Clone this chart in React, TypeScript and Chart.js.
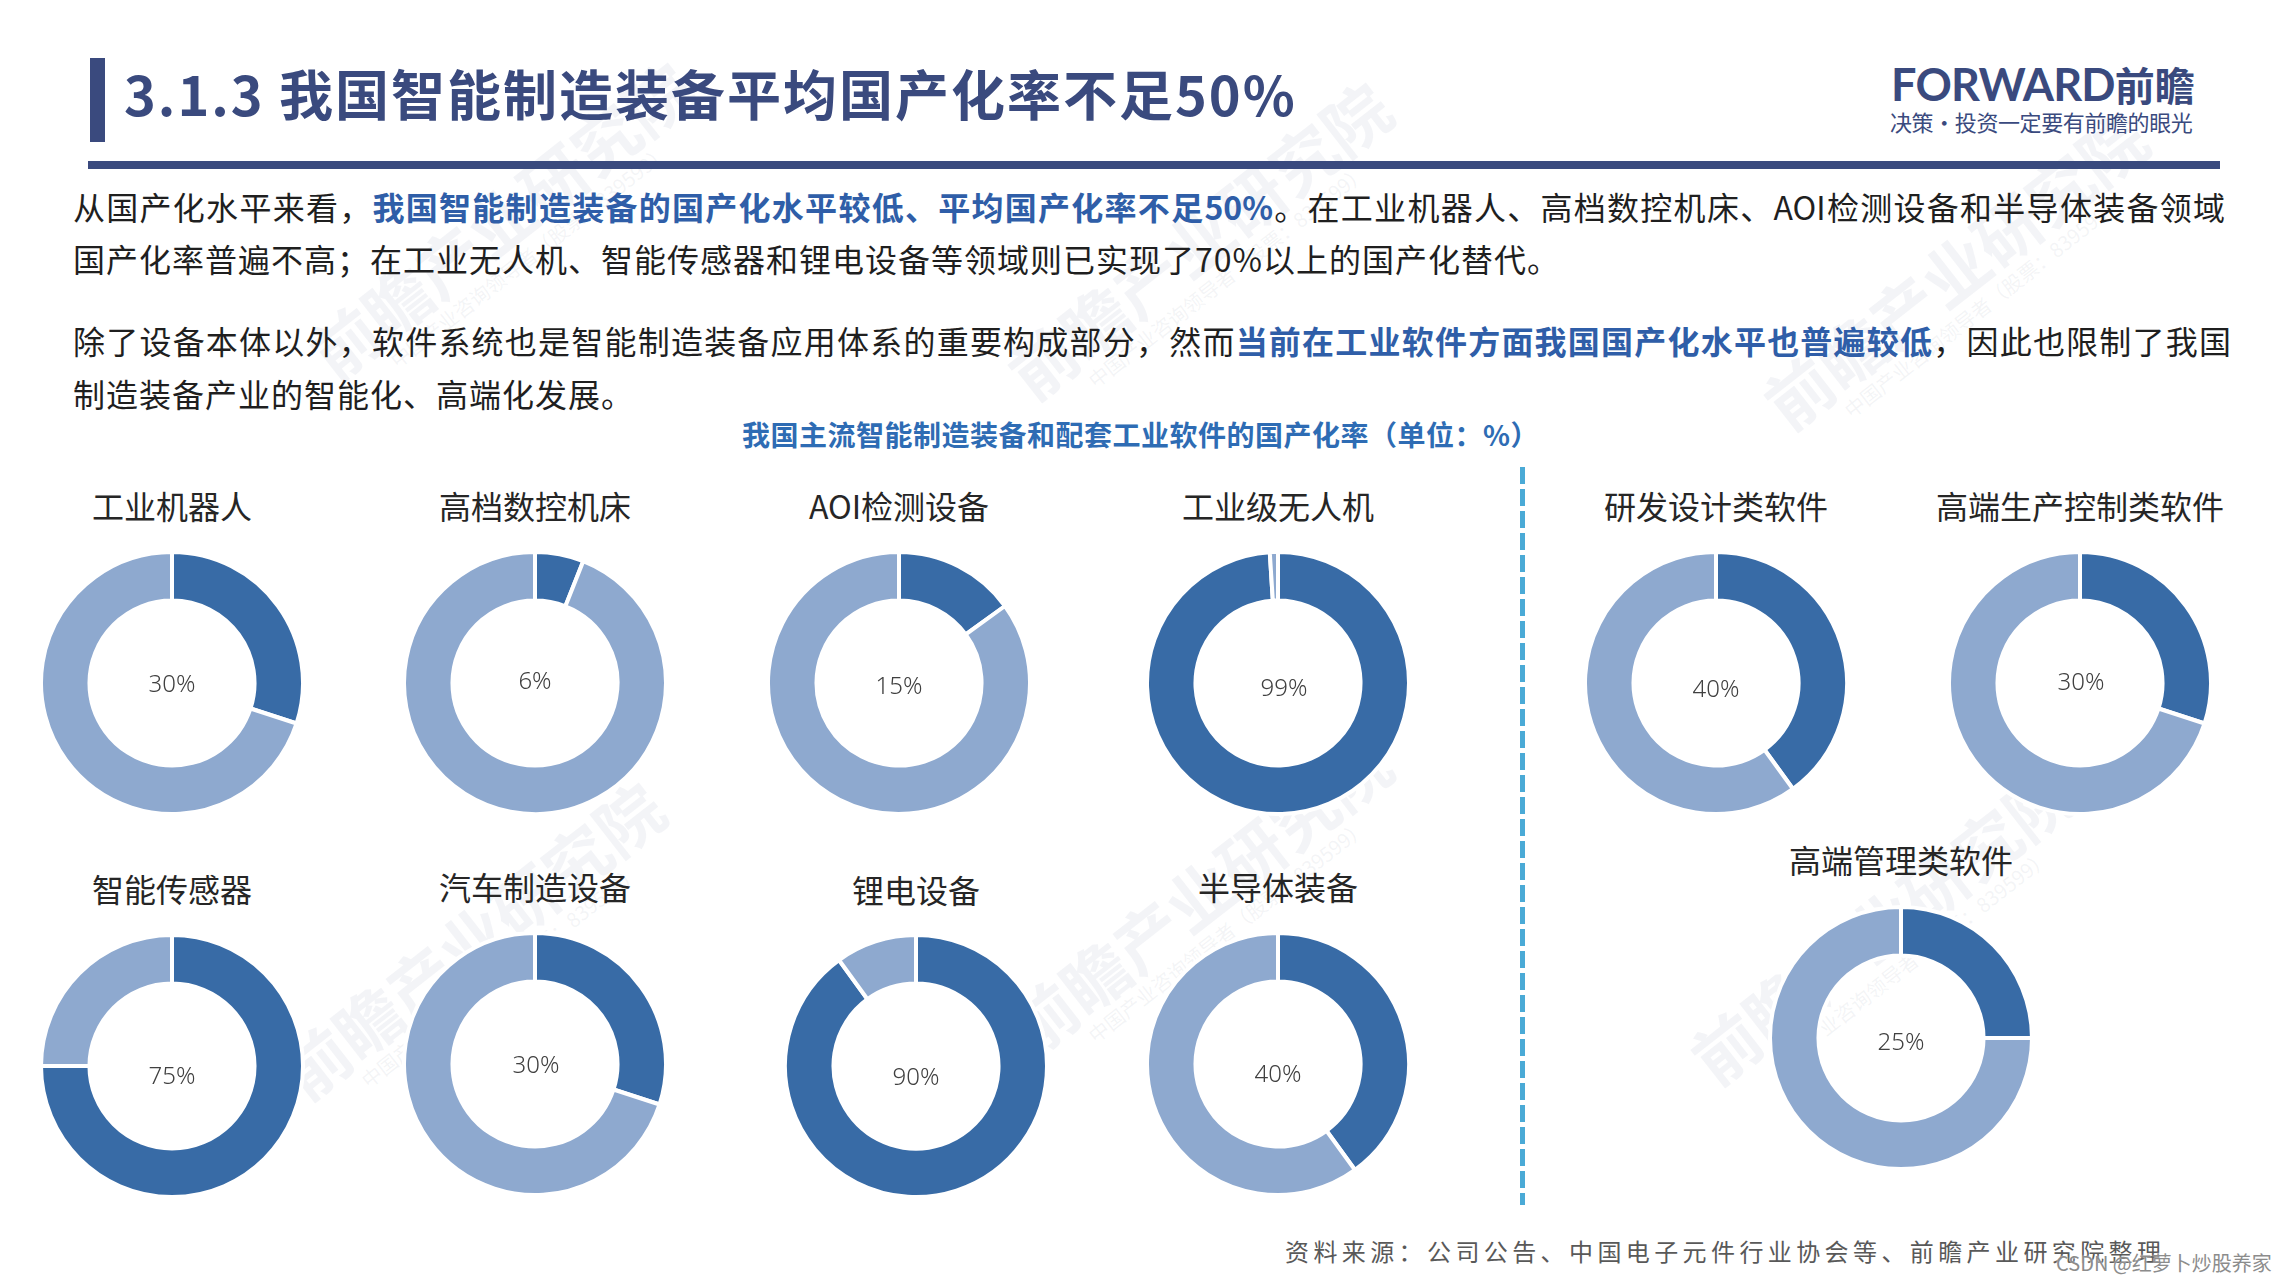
import React, { useEffect, useRef } from "react";
import { Chart, registerables } from "chart.js";

Chart.register(...registerables);

// ---------- data ----------
const equipmentNames = ["工业机器人", "高档数控机床", "AOI检测设备", "工业级无人机", "智能传感器", "汽车制造设备", "锂电设备", "半导体装备"];
const equipmentRates = [30, 6, 15, 99, 75, 30, 90, 40];
const softwareNames = ["研发设计类软件", "高端生产控制类软件", "高端管理类软件"];
const softwareRates = [40, 30, 25];
const sliceLabels = ["国产化率", "其他"];

// ---------- styles / layout ----------
const DARK = "#386ba6";
const LIGHT = "#8ea9cf";
const NAVY = "#3a4a7e";
const HIGHLIGHT = "#2f5ea8";
const CJK = "'Noto Sans CJK SC', 'Noto Sans', sans-serif";
const SIZE = 266;

type Spot = { cx: number; cy: number; ly: number; tx: number; ty: number };
const equipmentSpots: Spot[] = [
  { cx: 172, cy: 683, ly: 505, tx: 0, ty: 0 },
  { cx: 535, cy: 683, ly: 505, tx: 0, ty: -3 },
  { cx: 899, cy: 683, ly: 505, tx: 0, ty: 2 },
  { cx: 1278, cy: 683, ly: 505, tx: 6, ty: 4 },
  { cx: 172, cy: 1066, ly: 888, tx: 0, ty: 9 },
  { cx: 535, cy: 1064, ly: 886, tx: 1, ty: 0 },
  { cx: 916, cy: 1066, ly: 889, tx: 0, ty: 10 },
  { cx: 1278, cy: 1064, ly: 886, tx: 0, ty: 9 },
];
const softwareSpots: Spot[] = [
  { cx: 1716, cy: 683, ly: 505, tx: 0, ty: 5 },
  { cx: 2080, cy: 683, ly: 505, tx: 1, ty: -2 },
  { cx: 1901, cy: 1038, ly: 859, tx: 0, ty: 3 },
];
const watermarkSpots = [
  { x: 509, y: 230 },
  { x: 1207, y: 250 },
  { x: 1963, y: 280 },
  { x: 480, y: 950 },
  { x: 1207, y: 905 },
  { x: 1890, y: 935 },
];

function Donut({ value, name, spot }: { value: number; name: string; spot: Spot }) {
  const ref = useRef<HTMLCanvasElement | null>(null);
  useEffect(() => {
    if (!ref.current) return;
    const chart = new Chart(ref.current, {
      type: "doughnut",
      data: {
        labels: sliceLabels,
        datasets: [
          {
            data: [value, 100 - value],
            backgroundColor: [DARK, LIGHT],
            borderColor: "#ffffff",
            borderWidth: 4,
            hoverOffset: 0,
          },
        ],
      },
      options: {
        responsive: false,
        animation: false,
        cutout: "63%",
        events: [],
        layout: { padding: 0 },
        plugins: { legend: { display: false }, tooltip: { enabled: false } },
      },
    });
    return () => chart.destroy();
  }, [value]);
  return (
    <>
      <div
        style={{
          position: "absolute",
          left: spot.cx - 200,
          width: 400,
          top: spot.ly - 22,
          height: 44,
          lineHeight: "44px",
          textAlign: "center",
          fontSize: 32,
          color: "#262626",
          fontFamily: CJK,
          whiteSpace: "nowrap",
        }}
      >
        {name}
      </div>
      <canvas
        ref={ref}
        width={SIZE}
        height={SIZE}
        style={{ position: "absolute", left: spot.cx - SIZE / 2, top: spot.cy - SIZE / 2, width: SIZE, height: SIZE }}
      />
      <div
        style={{
          position: "absolute",
          left: spot.cx + spot.tx - 60,
          width: 120,
          top: spot.cy + spot.ty - 16,
          height: 32,
          lineHeight: "32px",
          textAlign: "center",
          fontSize: 24,
          color: "#404040",
          fontFamily: "'Noto Sans', 'Open Sans', sans-serif",
          fontWeight: 300,
        }}
      >
        {value}%
      </div>
    </>
  );
}

const para: React.CSSProperties = {
  position: "absolute",
  left: 73,
  height: 44,
  lineHeight: "44px",
  fontSize: 32,
  color: "#1f1f1f",
  fontFamily: CJK,
  whiteSpace: "nowrap",
};
const hl: React.CSSProperties = { color: HIGHLIGHT, fontWeight: 700 };

export default function App() {
  useEffect(() => {
    document.body.style.margin = "0";
  }, []);
  return (
    <div
      style={{
        position: "absolute",
        left: 0,
        top: 0,
        width: 2280,
        height: 1283,
        background: "#ffffff",
        overflow: "hidden",
        fontFamily: CJK,
      }}
    >
      {/* faint watermarks */}
      {watermarkSpots.map((w, i) => (
        <div
          key={"w" + i}
          style={{
            position: "absolute",
            left: w.x - 260,
            top: w.y - 50,
            width: 520,
            height: 100,
            transform: "rotate(-38deg)",
            textAlign: "center",
            color: "rgba(160,170,190,0.13)",
            fontFamily: CJK,
            fontWeight: 700,
            fontSize: 66,
            lineHeight: "70px",
            whiteSpace: "nowrap",
          }}
        >
          前瞻产业研究院
          <div style={{ fontSize: 20, lineHeight: "26px", fontWeight: 400 }}>中国产业咨询领导者（股票：839599）</div>
        </div>
      ))}

      {/* header */}
      <div style={{ position: "absolute", left: 90, top: 58, width: 15, height: 84, background: NAVY }} />
      <div
        style={{
          position: "absolute",
          left: 124,
          top: 61,
          height: 64,
          lineHeight: "64px",
          fontSize: 54,
          fontWeight: 700,
          letterSpacing: 2,
          color: NAVY,
          whiteSpace: "nowrap",
          fontFamily: CJK,
        }}
      >
        3.1.3 我国智能制造装备平均国产化率不足50%
      </div>
      <div style={{ position: "absolute", left: 88, top: 161, width: 2132, height: 8, background: NAVY }} />
      <div
        style={{
          position: "absolute",
          left: 1891,
          top: 60,
          height: 48,
          lineHeight: "48px",
          whiteSpace: "nowrap",
          color: NAVY,
        }}
      >
        <span style={{ fontFamily: "Lato, 'Noto Sans', sans-serif", fontWeight: 700, fontSize: 45, letterSpacing: -0.8 }}>FORWARD</span>
        <span style={{ fontFamily: CJK, fontWeight: 700, fontSize: 40 }}>前瞻</span>
      </div>
      <div
        style={{
          position: "absolute",
          left: 1890,
          top: 107,
          height: 28,
          lineHeight: "28px",
          fontSize: 22,
          color: NAVY,
          whiteSpace: "nowrap",
          letterSpacing: -0.4,
          fontFamily: CJK,
        }}
      >
        决策·投资一定要有前瞻的眼光
      </div>

      {/* paragraphs */}
      <div style={{ ...para, top: 206 - 22, width: 2152, textAlign: "justify", textAlignLast: "justify" }}>
        从国产化水平来看，<span style={hl}>我国智能制造装备的国产化水平较低、平均国产化率不足50%</span>。在工业机器人、高档数控机床、AOI检测设备和半导体装备领域
      </div>
      <div style={{ ...para, top: 258 - 22, letterSpacing: 1 }}>
        国产化率普遍不高；在工业无人机、智能传感器和锂电设备等领域则已实现了70%以上的国产化替代。
      </div>
      <div style={{ ...para, top: 340 - 22, width: 2158, textAlign: "justify", textAlignLast: "justify" }}>
        除了设备本体以外，软件系统也是智能制造装备应用体系的重要构成部分，然而<span style={hl}>当前在工业软件方面我国国产化水平也普遍较低</span>，因此也限制了我国
      </div>
      <div style={{ ...para, top: 393 - 22, letterSpacing: 1 }}>制造装备产业的智能化、高端化发展。</div>

      {/* chart title */}
      <div
        style={{
          position: "absolute",
          left: 742,
          top: 434 - 20,
          height: 40,
          lineHeight: "40px",
          fontSize: 28,
          fontWeight: 700,
          letterSpacing: 0.5,
          color: "#2e6cb4",
          whiteSpace: "nowrap",
          fontFamily: CJK,
        }}
      >
        我国主流智能制造装备和配套工业软件的国产化率（单位：%）
      </div>

      {/* dashed divider */}
      <div
        style={{
          position: "absolute",
          left: 1520,
          top: 467,
          width: 5,
          height: 738,
          background: "repeating-linear-gradient(to bottom, #4aaad6 0px, #4aaad6 17px, transparent 17px, transparent 22px)",
        }}
      />

      {equipmentNames.map((n, i) => (
        <Donut key={"e" + i} name={n} value={equipmentRates[i]} spot={equipmentSpots[i]} />
      ))}
      {softwareNames.map((n, i) => (
        <Donut key={"s" + i} name={n} value={softwareRates[i]} spot={softwareSpots[i]} />
      ))}

      {/* footer */}
      <div
        style={{
          position: "absolute",
          left: 1285,
          top: 1251 - 17,
          height: 34,
          lineHeight: "34px",
          fontSize: 24,
          letterSpacing: 4.4,
          color: "#595959",
          whiteSpace: "nowrap",
          fontFamily: CJK,
        }}
      >
        资料来源：公司公告、中国电子元件行业协会等、前瞻产业研究院整理
      </div>
      <div
        style={{
          position: "absolute",
          left: 2056,
          top: 1263 - 14,
          height: 28,
          lineHeight: "28px",
          fontSize: 20,
          color: "#8c8c8c",
          whiteSpace: "nowrap",
          fontFamily: CJK,
          textShadow: "0 0 2px #fff",
        }}
      >
        CSDN @红萝卜炒股养家
      </div>
    </div>
  );
}
